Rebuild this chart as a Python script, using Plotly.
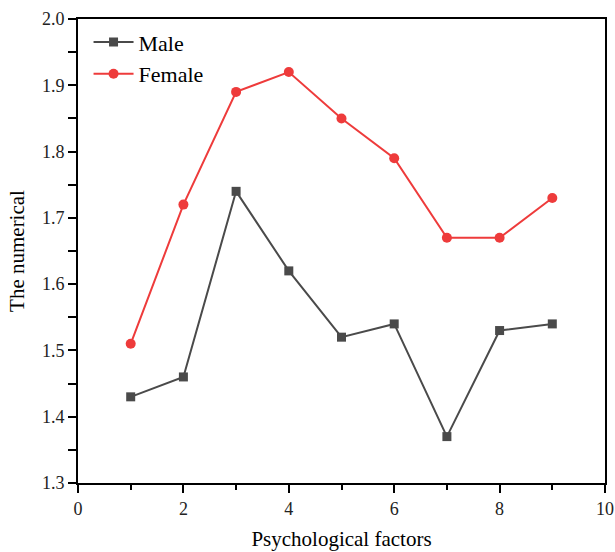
import plotly.graph_objects as go

factors = [1, 2, 3, 4, 5, 6, 7, 8, 9]
male = [1.43, 1.46, 1.74, 1.62, 1.52, 1.54, 1.37, 1.53, 1.54]
female = [1.51, 1.72, 1.89, 1.92, 1.85, 1.79, 1.67, 1.67, 1.73]

fig = go.Figure()
fig.add_trace(go.Scatter(x=factors, y=male, mode="lines+markers", name="Male",
                         line=dict(color="#4a4a4a", width=2),
                         marker=dict(symbol="square", size=9, color="#4a4a4a")))
fig.add_trace(go.Scatter(x=factors, y=female, mode="lines+markers", name="Female",
                         line=dict(color="#ee3b3b", width=2),
                         marker=dict(symbol="circle", size=10, color="#ee3b3b")))

axis_font = dict(family="Liberation Serif, Times New Roman, serif", size=18, color="#222")
fig.update_layout(
    width=615, height=552,
    margin=dict(l=78, r=10, t=19, b=69),
    plot_bgcolor="white", paper_bgcolor="white",
    font=dict(family="Liberation Serif, Times New Roman, serif", color="black"),
    legend=dict(x=0.02, y=0.995, xanchor="left", yanchor="top",
                font=dict(size=22, family="Liberation Serif, serif", color="black"),
                bgcolor="rgba(0,0,0,0)", itemwidth=40, tracegroupgap=0),
    showlegend=True,
)
fig.update_xaxes(range=[0, 10], dtick=2, tick0=0, showgrid=False, zeroline=False, automargin=False,
                 showline=True, linecolor="black", linewidth=2, mirror=True,
                 ticks="outside", ticklen=8, tickwidth=2, tickcolor="black",
                 tickfont=axis_font,
                 minor=dict(ticks="outside", ticklen=5, tickwidth=2, tickcolor="black", dtick=1, showgrid=False),
                 title=dict(text="Psychological factors", font=dict(size=21, color="black"), standoff=14))
fig.update_yaxes(range=[1.3, 2.0], dtick=0.1, tick0=1.3, tickformat=".1f", showgrid=False, zeroline=False,
                 automargin=False,
                 showline=True, linecolor="black", linewidth=2, mirror=True,
                 ticks="outside", ticklen=8, tickwidth=2, tickcolor="black",
                 tickfont=axis_font,
                 minor=dict(ticks="outside", ticklen=8, tickwidth=2, tickcolor="black", dtick=0.05, showgrid=False),
                 title=dict(text="The numerical", font=dict(size=21, color="black"), standoff=12))

fig.write_html("out.html", config={"displayModeBar": False},
               post_script="document.body.style.margin='0';document.body.style.overflow='hidden';")
